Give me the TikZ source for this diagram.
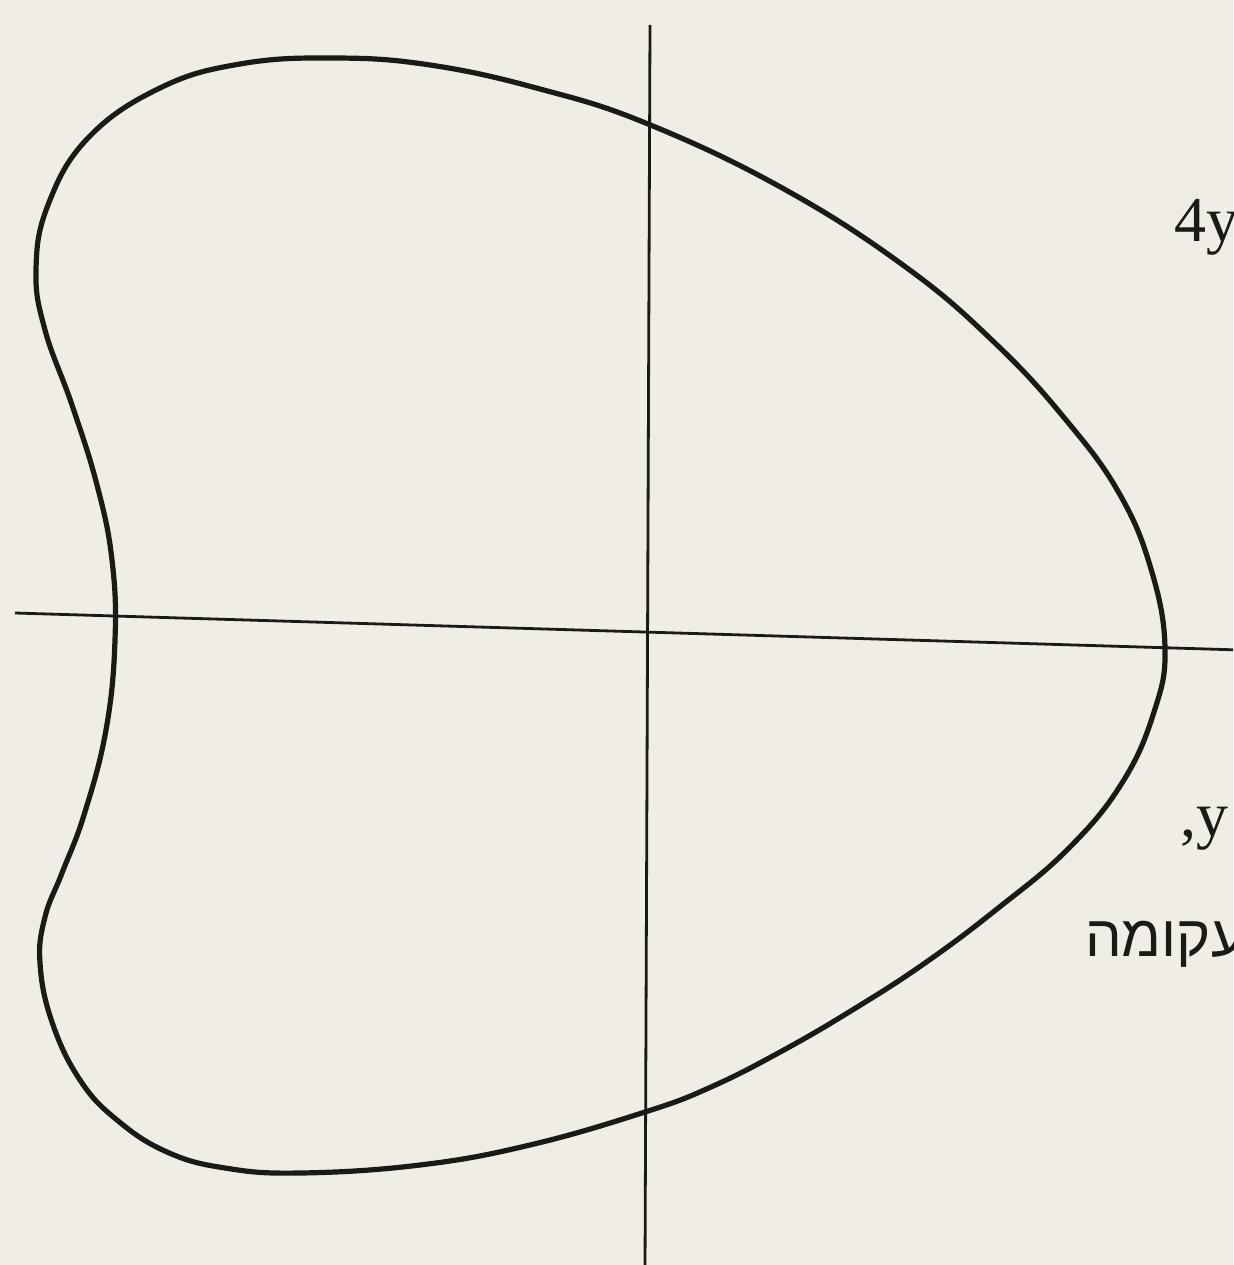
\documentclass[tikz,border=0pt]{standalone}
\usepackage{fontspec}
\setmainfont{Liberation Serif}
\newfontfamily\hebfont[Script=Hebrew]{Liberation Sans}
\TeXXeTstate=1
\definecolor{paper}{RGB}{240,237,229}
\definecolor{ink}{RGB}{26,26,22}
\tikzset{
  axisline/.style={draw=ink, line width=2.8pt},
  curveline/.style={draw=ink, line width=5.2pt, line join=round},
  lbl/.style={text=ink, inner sep=0pt, anchor=base west, font=\fontsize{64}{72}\selectfont},
  heblbl/.style={text=ink, inner sep=0pt, anchor=base west, font=\hebfont\fontsize{58}{66}\selectfont}
}
\begin{document}
\begin{tikzpicture}[x=1pt,y=-1pt]
  \useasboundingbox (0,0) rectangle (1233,1265);
  \clip (0,0) rectangle (1233,1265);
  \fill[paper] (0,0) rectangle (1233,1265);
  % axes
  \coordinate (xl) at (15,613);
  \coordinate (xr) at (1240,650);
  \coordinate (yt) at (650,25);
  \coordinate (yb) at (645,1270);
  \draw[axisline] (xl) -- (xr);
  \draw[axisline] (yt) -- (yb);
  % closed curve
  \draw[curveline] plot[smooth cycle, tension=0.7] coordinates {
    (333,58) (430,65) (540,89) (648,124) (784,189) (907,268) (996,344)
    (1066,420) (1119,493) (1151,569) (1165,648) (1154,712) (1122,783)
    (1068,849) (997,909) (925,963) (854,1009) (782,1051) (711,1087)
    (645,1112) (530,1145) (420,1165) (300,1173) (225,1168) (167,1152)
    (117,1120) (80,1080) (52,1022) (40,963) (45,917) (62,873) (84,815)
    (106,730) (115,640) (112,560) (97,485) (72,405) (45,330) (36,270)
    (48,205) (88,138) (160,88) (240,64)
  };
  % texts (clipped at the right edge, as in the reference)
  \node[lbl] (t4y) at (1174,242) {4y};
  \node[lbl] (tcy) at (1180,836) {,y};
  \node[heblbl] (theb) at (1085,956) {\beginR עקומה\endR};
\end{tikzpicture}
\end{document}
